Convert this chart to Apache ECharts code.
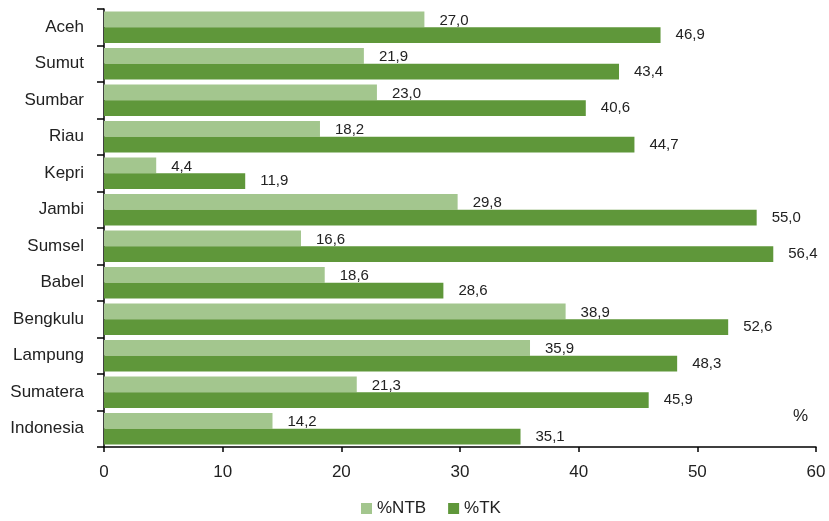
<!DOCTYPE html>
<html><head><meta charset="utf-8">
<script src="https://cdn.jsdelivr.net/npm/echarts@6/dist/echarts.min.js"></script>
<style>html,body{margin:0;padding:0;background:#fff}#c{width:829px;height:521px}</style>
</head><body><div id="c"></div>
<script>
const categories = ['Aceh','Sumut','Sumbar','Riau','Kepri','Jambi','Sumsel','Babel','Bengkulu','Lampung','Sumatera','Indonesia'];
const ntb = [27.0,21.9,23.0,18.2,4.4,29.8,16.6,18.6,38.9,35.9,21.3,14.2];
const tk = [46.9,43.4,40.6,44.7,11.9,55.0,56.4,28.6,52.6,48.3,45.9,35.1];
const xTicks = {min:0,max:60,interval:10};
const fontF = '"Liberation Sans", Arial, sans-serif';
const fmt = p => p.value.toFixed(1).replace('.', ',');
const chart = echarts.init(document.getElementById('c'));
chart.setOption({
  animation:false,
  textStyle:{fontFamily:fontF},
  grid:{left:104,right:13,top:9,bottom:74,containLabel:false,outerBoundsMode:'none'},
  legend:{top:495,left:356,itemWidth:11,itemHeight:11,itemGap:22,icon:'rect',
    textStyle:{fontSize:17,color:'#222',fontFamily:fontF}},
  xAxis:{type:'value',min:xTicks.min,max:xTicks.max,interval:xTicks.interval,
    splitLine:{show:false},
    axisLine:{show:true,lineStyle:{color:'#000',width:1.5}},
    axisTick:{show:true,length:5,lineStyle:{color:'#000',width:1.5}},
    axisLabel:{fontSize:17,color:'#222',margin:17,fontFamily:fontF}},
  yAxis:{type:'category',data:categories,inverse:true,
    axisLine:{show:true,lineStyle:{color:'#000',width:1.5}},
    axisTick:{show:true,length:7,lineStyle:{color:'#000',width:1.5}},
    axisLabel:{fontSize:17,color:'#222',margin:20,fontFamily:fontF}},
  graphic:[{type:'text',left:793,top:408,style:{text:'%',fontSize:17,fill:'#222',fontFamily:fontF}}],
  series:[
    {name:'%NTB',type:'bar',data:ntb,barGap:'0%',barCategoryGap:'14%',
     itemStyle:{color:'#a3c68e'},
     label:{show:true,position:'right',distance:15,offset:[0,1],formatter:fmt,fontSize:15,color:'#222',fontFamily:fontF}},
    {name:'%TK',type:'bar',data:tk,barGap:'0%',barCategoryGap:'14%',
     itemStyle:{color:'#5f973a'},
     label:{show:true,position:'right',distance:15,formatter:fmt,fontSize:15,color:'#222',fontFamily:fontF}}
  ]
});
</script></body></html>
